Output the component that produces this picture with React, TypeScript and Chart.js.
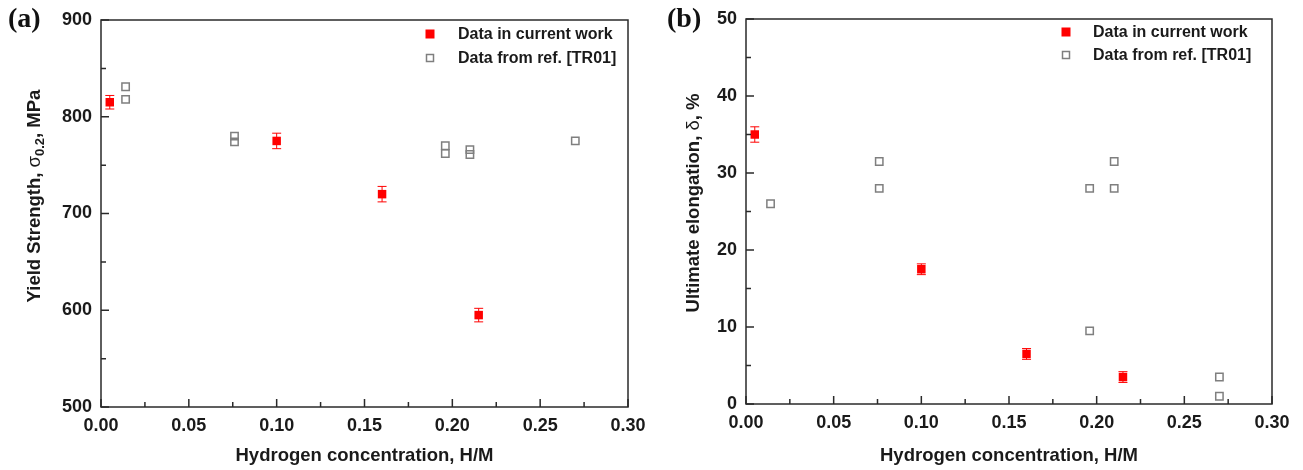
import React, { useEffect, useRef } from "react";
import { Chart, registerables } from "chart.js";

Chart.register(...registerables);

// ---------- data ----------
const xTicks = [0, 0.05, 0.1, 0.15, 0.2, 0.25, 0.3];
const ysTicks = [500, 600, 700, 800, 900];
const elTicks = [0, 10, 20, 30, 40, 50];

const seriesNames = ["Data in current work", "Data from ref. [TR01]"];

// Current work (H/M, value, error)
const curH = [0.005, 0.1, 0.16, 0.215];
const curYS = [815, 775, 720, 595];
const curYSErr = [7, 8, 8, 7];
const curEl = [35, 17.5, 6.5, 3.5];
const curElErr = [1, 0.7, 0.7, 0.7];

// Reference [TR01]
const refYSH = [0.014, 0.014, 0.076, 0.076, 0.196, 0.196, 0.21, 0.21, 0.27];
const refYS = [831, 818, 780, 774, 770, 762, 766, 761, 775];
const refElH = [0.014, 0.076, 0.076, 0.196, 0.196, 0.21, 0.21, 0.27, 0.27];
const refEl = [26, 31.5, 28, 28, 9.5, 31.5, 28, 3.5, 1];

const RED = "#ff0000";
const GRAY = "#7f7f7f";
const INK = "#1a1a1a";
const FRAME = "#2a2a2a";

type TitlePart = { t: string; size: number; weight: string; dy?: number };

type PanelCfg = {
  tag: string;
  yMin: number;
  yMax: number;
  yTicks: number[];
  curY: number[];
  curErr: number[];
  refX: number[];
  refY: number[];
  yTitle: TitlePart[];
  yTitleX: number;
  yTitleCY: number;
  yWidth: number;
  xHeight: number;
  padTop: number;
  padRight: number;
  legendMarkX: number;
  legendTextX: number;
  legendRows: number[];
  tagX: number;
  tagY: number;
  canvasW: number;
};

const decorPlugin = {
  id: "panelDecor",
  beforeDatasetsDraw(chart: any, _args: any, opts: any) {
    const ctx = chart.ctx;
    const xs = chart.scales.x;
    const ys = chart.scales.y;
    const cfg: PanelCfg = opts.cfg;
    ctx.save();
    ctx.strokeStyle = RED;
    ctx.lineWidth = 1;
    cfg.curY.forEach((v, i) => {
      const px = xs.getPixelForValue(curH[i]);
      const p1 = ys.getPixelForValue(v + cfg.curErr[i]);
      const p2 = ys.getPixelForValue(v - cfg.curErr[i]);
      ctx.beginPath();
      ctx.moveTo(px, p1);
      ctx.lineTo(px, p2);
      ctx.moveTo(px - 4.5, p1);
      ctx.lineTo(px + 4.5, p1);
      ctx.moveTo(px - 4.5, p2);
      ctx.lineTo(px + 4.5, p2);
      ctx.stroke();
    });
    ctx.restore();
  },
  afterDraw(chart: any, _args: any, opts: any) {
    const ctx = chart.ctx;
    const cfg: PanelCfg = opts.cfg;
    const a = chart.chartArea;
    const xs = chart.scales.x;
    const ys = chart.scales.y;
    ctx.save();
    // frame
    ctx.strokeStyle = FRAME;
    ctx.lineWidth = 1.5;
    ctx.strokeRect(a.left, a.top, a.right - a.left, a.bottom - a.top);
    // inner ticks
    ctx.beginPath();
    for (let i = 0; i < xTicks.length; i++) {
      const px = xs.getPixelForValue(xTicks[i]);
      ctx.moveTo(px, a.bottom);
      ctx.lineTo(px, a.bottom - 8);
      if (i < xTicks.length - 1) {
        const pm = xs.getPixelForValue((xTicks[i] + xTicks[i + 1]) / 2);
        ctx.moveTo(pm, a.bottom);
        ctx.lineTo(pm, a.bottom - 5);
      }
    }
    for (let i = 0; i < cfg.yTicks.length; i++) {
      const py = ys.getPixelForValue(cfg.yTicks[i]);
      ctx.moveTo(a.left, py);
      ctx.lineTo(a.left + 8, py);
      if (i < cfg.yTicks.length - 1) {
        const pm = ys.getPixelForValue((cfg.yTicks[i] + cfg.yTicks[i + 1]) / 2);
        ctx.moveTo(a.left, pm);
        ctx.lineTo(a.left + 5, pm);
      }
    }
    ctx.stroke();

    // y title with subscript
    ctx.fillStyle = INK;
    ctx.textBaseline = "alphabetic";
    ctx.textAlign = "left";
    let total = 0;
    const widths = cfg.yTitle.map((p) => {
      ctx.font = `${p.weight} ${p.size}px Arial, "Liberation Sans", sans-serif`;
      const w = ctx.measureText(p.t).width;
      total += w;
      return w;
    });
    ctx.save();
    ctx.translate(cfg.yTitleX, cfg.yTitleCY);
    ctx.rotate(-Math.PI / 2);
    let cx = -total / 2;
    cfg.yTitle.forEach((p, i) => {
      ctx.font = `${p.weight} ${p.size}px Arial, "Liberation Sans", sans-serif`;
      ctx.fillText(p.t, cx, p.dy || 0);
      cx += widths[i];
    });
    ctx.restore();

    // legend
    ctx.textBaseline = "middle";
    ctx.font = `bold 16px Arial, "Liberation Sans", sans-serif`;
    ctx.fillStyle = INK;
    seriesNames.forEach((name, i) => {
      const y = cfg.legendRows[i];
      if (i === 0) {
        ctx.fillStyle = RED;
        ctx.fillRect(cfg.legendMarkX - 4.5, y - 4.5, 9, 9);
      } else {
        ctx.strokeStyle = GRAY;
        ctx.lineWidth = 1.5;
        ctx.strokeRect(cfg.legendMarkX - 3.5, y - 3.5, 7, 7);
      }
      ctx.fillStyle = INK;
      ctx.fillText(name, cfg.legendTextX, y + 1);
    });

    // panel tag
    ctx.font = `bold 28px "Times New Roman", "Liberation Serif", serif`;
    ctx.textBaseline = "alphabetic";
    ctx.fillStyle = "#111";
    ctx.fillText(cfg.tag, cfg.tagX, cfg.tagY);
    ctx.restore();
  },
};

function buildConfig(cfg: PanelCfg): any {
  const tickFont = { family: 'Arial, "Liberation Sans", sans-serif', size: 18, weight: "bold" as const };
  return {
    type: "scatter",
    data: {
      datasets: [
        {
          label: seriesNames[0],
          data: curH.map((x, i) => ({ x, y: cfg.curY[i] })),
          pointStyle: "rect",
          pointRadius: 6,
          backgroundColor: RED,
          borderColor: RED,
          borderWidth: 0,
          showLine: false,
          order: 0,
        },
        {
          label: seriesNames[1],
          data: cfg.refX.map((x, i) => ({ x, y: cfg.refY[i] })),
          pointStyle: "rect",
          pointRadius: 5.2,
          backgroundColor: "rgba(0,0,0,0)",
          borderColor: GRAY,
          borderWidth: 1.5,
          showLine: false,
          order: 1,
        },
      ],
    },
    options: {
      responsive: false,
      animation: false,
      events: [],
      layout: { padding: { left: 0, right: cfg.padRight, top: cfg.padTop, bottom: 0 } },
      plugins: {
        legend: { display: false },
        tooltip: { enabled: false },
        panelDecor: { cfg },
      },
      scales: {
        x: {
          type: "linear",
          min: 0,
          max: 0.3,
          afterBuildTicks: (s: any) => {
            s.ticks = xTicks.map((v) => ({ value: v }));
          },
          afterFit: (s: any) => {
            s.height = cfg.xHeight;
            s.paddingLeft = 0;
            s.paddingRight = 0;
          },
          grid: { display: false, drawTicks: false },
          border: { display: false },
          ticks: {
            padding: 8.5,
            color: INK,
            font: tickFont,
            maxRotation: 0,
            autoSkip: false,
            callback: (v: any) => Number(v).toFixed(2),
          },
          title: {
            display: true,
            text: "Hydrogen concentration, H/M",
            color: INK,
            font: { family: 'Arial, "Liberation Sans", sans-serif', size: 18.5, weight: "bold" },
            padding: { top: 0, bottom: 3 },
          },
        },
        y: {
          type: "linear",
          min: cfg.yMin,
          max: cfg.yMax,
          afterBuildTicks: (s: any) => {
            s.ticks = cfg.yTicks.map((v) => ({ value: v }));
          },
          afterFit: (s: any) => {
            s.width = cfg.yWidth;
            s.paddingTop = 0;
            s.paddingBottom = 0;
          },
          grid: { display: false, drawTicks: false },
          border: { display: false },
          ticks: {
            padding: 9,
            color: INK,
            font: tickFont,
            autoSkip: false,
          },
        },
      },
    },
    plugins: [decorPlugin],
  };
}

const leftCfg: PanelCfg = {
  tag: "(a)",
  yMin: 500,
  yMax: 900,
  yTicks: ysTicks,
  curY: curYS,
  curErr: curYSErr,
  refX: refYSH,
  refY: refYS,
  yTitle: [
    { t: "Yield Strength, ", size: 18.5, weight: "bold" },
    { t: "σ", size: 18.5, weight: "normal" },
    { t: "0.2", size: 13, weight: "bold", dy: 4 },
    { t: ", MPa", size: 18.5, weight: "bold" },
  ],
  yTitleX: 40,
  yTitleCY: 196,
  yWidth: 101,
  xHeight: 63,
  padTop: 20,
  padRight: 22,
  legendMarkX: 430,
  legendTextX: 458,
  legendRows: [34, 58],
  tagX: 8,
  tagY: 27,
  canvasW: 650,
};

const rightCfg: PanelCfg = {
  tag: "(b)",
  yMin: 0,
  yMax: 50,
  yTicks: elTicks,
  curY: curEl,
  curErr: curElErr,
  refX: refElH,
  refY: refEl,
  yTitle: [
    { t: "Ultimate elongation, ", size: 18.5, weight: "bold" },
    { t: "δ", size: 18.5, weight: "normal" },
    { t: ", %", size: 18.5, weight: "bold" },
  ],
  yTitleX: 59,
  yTitleCY: 203,
  yWidth: 106,
  xHeight: 66,
  padTop: 19,
  padRight: 31,
  legendMarkX: 426,
  legendTextX: 453,
  legendRows: [32, 55],
  tagX: 27,
  tagY: 27,
  canvasW: 663,
};

function Panel({ cfg, left }: { cfg: PanelCfg; left: number }) {
  const ref = useRef<HTMLCanvasElement | null>(null);
  useEffect(() => {
    if (!ref.current) return;
    const chart = new Chart(ref.current, buildConfig(cfg));
    return () => chart.destroy();
  }, [cfg]);
  return (
    <canvas
      ref={ref}
      width={cfg.canvasW}
      height={470}
      style={{ position: "absolute", left, top: 0, width: cfg.canvasW, height: 470 }}
    />
  );
}

export default function App() {
  return (
    <div style={{ position: "absolute", left: 0, top: 0, width: 1303, height: 470, background: "#fff", overflow: "hidden" }}>
      <Panel cfg={leftCfg} left={0} />
      <Panel cfg={rightCfg} left={640} />
    </div>
  );
}
